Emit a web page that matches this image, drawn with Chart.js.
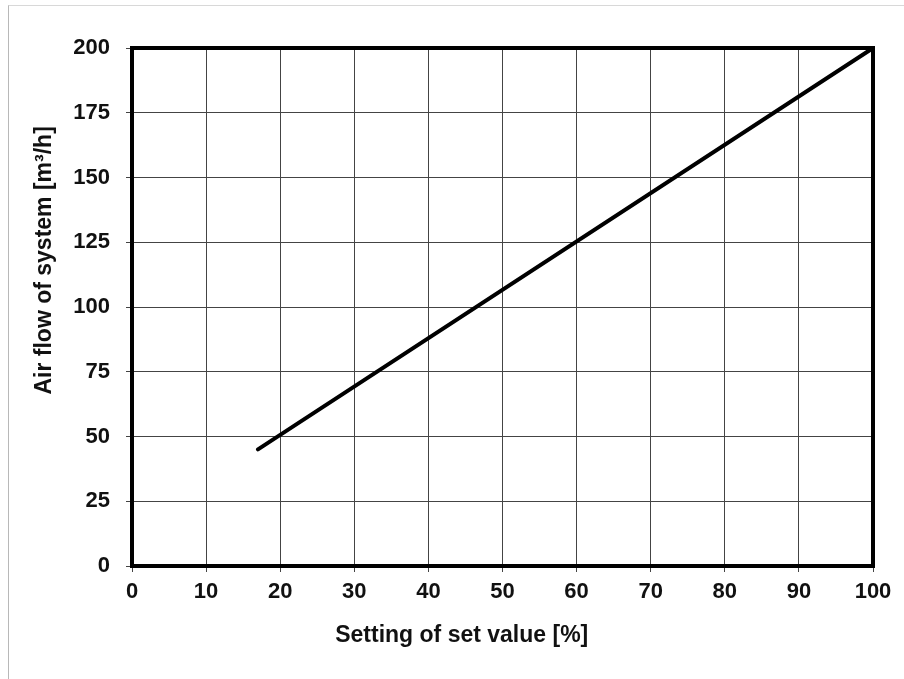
<!DOCTYPE html>
<html>
<head>
<meta charset="utf-8">
<script src="https://cdn.jsdelivr.net/npm/chart.js@4.4.1/dist/chart.umd.min.js"></script>
<style>
  html, body { margin: 0; padding: 0; background: #fff; }
  #wrap { position: relative; width: 904px; height: 679px; }
  #frame { position: absolute; left: 8px; top: 5px; width: 900px; height: 700px;
           border-top: 1px solid #d8d8d8; border-left: 1px solid #b8b8b8; }
  canvas { position: absolute; left: 0; top: 0; }
</style>
</head>
<body>
<div id="wrap">
  <div id="frame"></div>
  <canvas id="c" width="904" height="679"></canvas>
</div>
<script>
const settingPercent = [17, 100];
const airFlow = [45, 200];
const xTicks = [0, 10, 20, 30, 40, 50, 60, 70, 80, 90, 100];
const yTicks = [0, 25, 50, 75, 100, 125, 150, 175, 200];
const xTitle = 'Setting of set value [%]';
const yTitle = 'Air flow of system [m³/h]';

const FONT = "'Liberation Sans', Arial, sans-serif";

const frameBox = {
  id: 'frameBox',
  afterDatasetsDraw(chart) {
    const { ctx, chartArea: a } = chart;
    ctx.save();
    ctx.strokeStyle = '#000';
    ctx.lineWidth = 4;
    ctx.strokeRect(a.left, a.top, a.right - a.left, a.bottom - a.top);
    ctx.restore();
  }
};

// Axis titles: drawn slightly off-centre, as in the original figure
const axisTitles = {
  id: 'axisTitles',
  afterDraw(chart) {
    const { ctx, chartArea: a } = chart;
    ctx.save();
    ctx.fillStyle = '#111';
    ctx.font = "bold 23px " + FONT;
    ctx.textAlign = 'center';
    ctx.textBaseline = 'middle';
    const w = a.right - a.left, h = a.bottom - a.top;
    ctx.fillText(xTitle, a.left + w * 0.445, a.bottom + 70);
    ctx.translate(45, a.top + h * 0.41);
    ctx.rotate(-Math.PI / 2);
    ctx.fillText(yTitle, 0, 0);
    ctx.restore();
  }
};

new Chart(document.getElementById('c'), {
  type: 'scatter',
  data: {
    datasets: [{
      data: settingPercent.map((x, i) => ({ x, y: airFlow[i] })),
      showLine: true,
      borderColor: '#000',
      borderWidth: 4,
      pointRadius: 0,
      fill: false,
      borderCapStyle: 'round'
    }]
  },
  options: {
    responsive: false,
    animation: false,
    devicePixelRatio: 1,
    layout: { padding: { top: 48, right: 31, left: 0, bottom: 0 } },
    plugins: { legend: { display: false }, tooltip: { enabled: false } },
    scales: {
      x: {
        type: 'linear', min: 0, max: 100,
        afterBuildTicks(s) { s.ticks = xTicks.map(v => ({ value: v })); },
        afterFit(s) { s.height = 113; },
        grid: { color: '#444', lineWidth: 1, tickLength: 6, drawTicks: true },
        border: { display: false },
        ticks: { color: '#111', font: { family: FONT, size: 22, weight: 'bold' }, padding: 7, maxRotation: 0 },
        title: { display: false, text: xTitle }
      },
      y: {
        type: 'linear', min: 0, max: 200,
        afterBuildTicks(s) { s.ticks = yTicks.map(v => ({ value: v })); },
        afterFit(s) { s.width = 132; },
        grid: { color: '#444', lineWidth: 1, tickLength: 6, drawTicks: true },
        border: { display: false },
        ticks: { color: '#111', font: { family: FONT, size: 22, weight: 'bold' }, padding: 16 },
        title: { display: false, text: yTitle }
      }
    }
  },
  plugins: [frameBox, axisTitles]
});
</script>
</body>
</html>
